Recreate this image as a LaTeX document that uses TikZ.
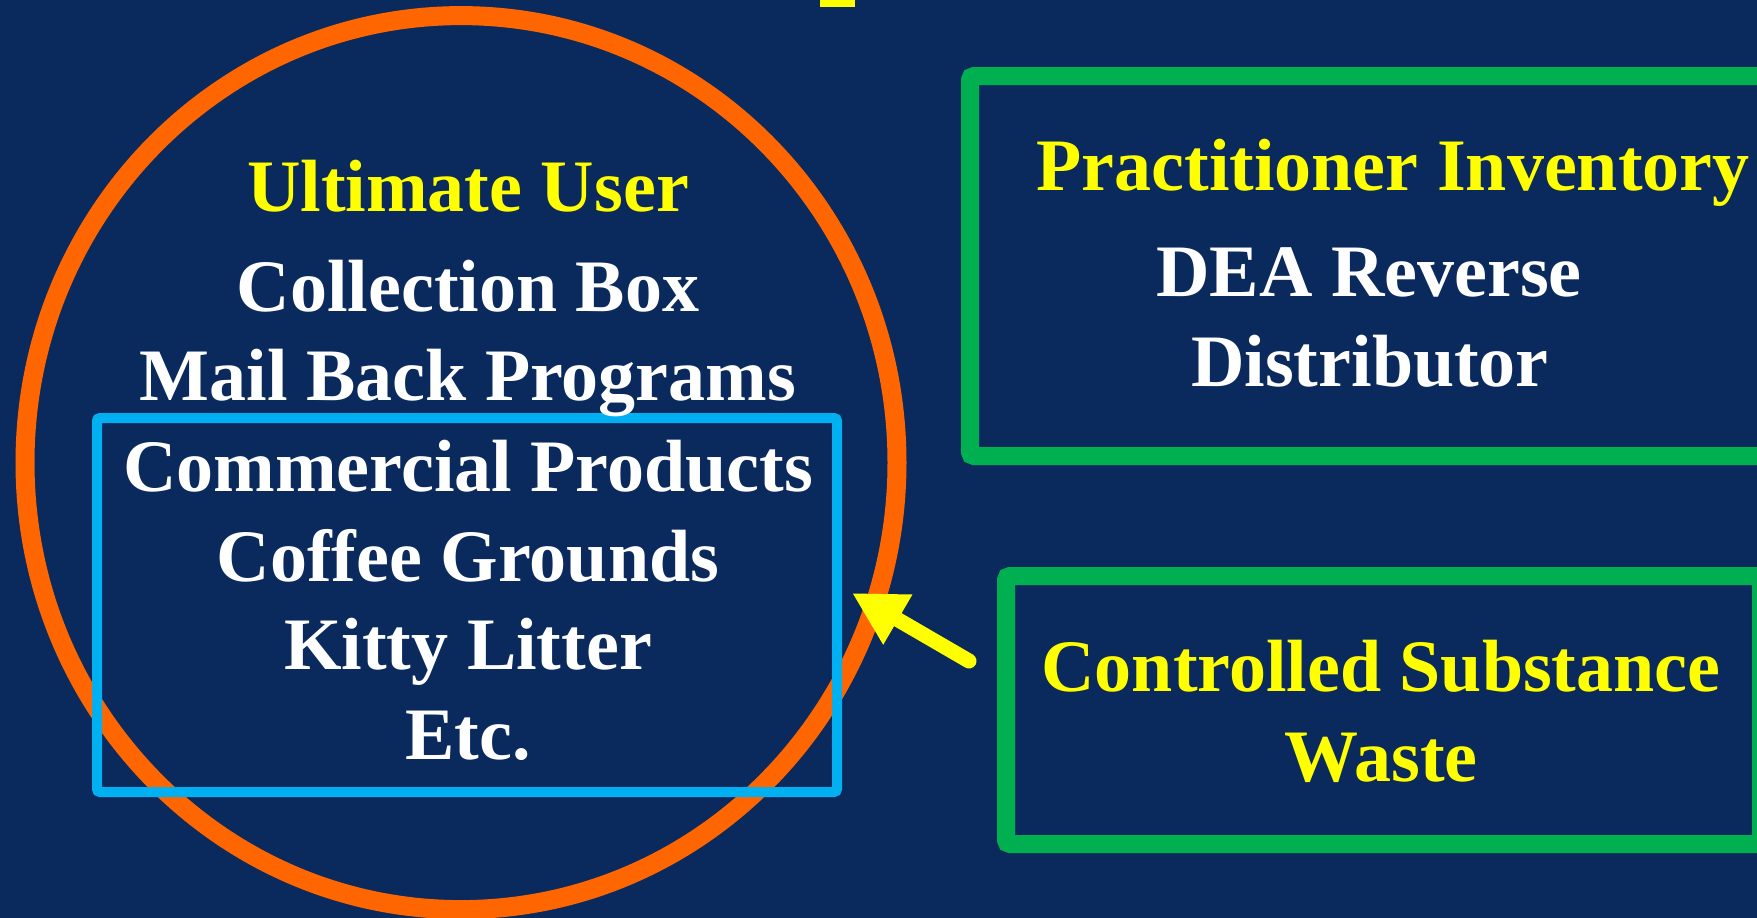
\documentclass[tikz,border=0pt]{standalone}
\usepackage{fontspec}
\setmainfont{Liberation Serif}
\usetikzlibrary{shapes.geometric,arrows.meta}
\definecolor{navy}{HTML}{0A2A5E}
\definecolor{ringorange}{HTML}{FF6600}
\definecolor{boxgreen}{HTML}{00B050}
\definecolor{boxcyan}{HTML}{00B0F0}
\definecolor{txtyellow}{HTML}{FFFF00}
\tikzset{
  bigtext/.style={font=\fontsize{74}{89}\selectfont\bfseries, anchor=base, inner sep=0pt},
  whitetext/.style={bigtext, text=white},
  yellowtext/.style={bigtext, text=txtyellow},
  greenbox/.style={draw=boxgreen, line width=18pt, rounded corners=4pt},
  cyanbox/.style={draw=boxcyan, line width=10pt, rounded corners=3pt},
  ring/.style={ellipse, draw=ringorange, line width=19pt, inner sep=0pt},
  pointer/.style={draw=txtyellow, line width=15pt, line cap=round,
    -{Triangle[length=53pt,width=54pt,fill=txtyellow]}}
}
\begin{document}
\begin{tikzpicture}[x=1pt,y=-1pt]
\useasboundingbox (0,0) rectangle (1757,918);
\clip (0,0) rectangle (1757,918);
\fill[navy] (0,0) rectangle (1757,918);
% fragment of cut-off title
\fill[txtyellow] (820,-2) rectangle (855,6.5);
% orange ring
\node[ring, minimum width=872pt, minimum height=894pt] (ring) at (461,462.6) {};
% cyan box
\draw[cyanbox] (97,418) rectangle (837,792);
\coordinate (cyanE) at (837,605);
% texts in circle
\node[yellowtext] (uu) at (468,211) {Ultimate User};
\node[whitetext] (cb) at (468,311.5) {Collection Box};
\node[whitetext] (mb) at (468,400) {Mail Back Programs};
\node[whitetext] (cp) at (468,491) {Commercial Products};
\node[whitetext] (cg) at (468,581) {Coffee Grounds};
\node[whitetext] (kl) at (468,669) {Kitty Litter};
\node[whitetext] (etc) at (468,759) {Etc.};
% green boxes
\draw[greenbox] (970,76) rectangle (1772,456);
\draw[greenbox] (1006,576) rectangle (1761,844);
\node[yellowtext] (pi) at (1393,190.5) {Practitioner Inventory};
\node[whitetext] (dea) at (1369,296.7) {DEA Reverse};
\node[whitetext] (dist) at (1370,386.7) {Distributor};
\node[yellowtext] (csw) at (1381,691.7) {Controlled Substance};
\node[yellowtext] (waste) at (1381,781.7) {Waste};
% arrow
\coordinate (atail) at (969,661);
\coordinate (atip) at (852,593);
\draw[pointer] (atail) -- (atip);
\end{tikzpicture}
\end{document}
